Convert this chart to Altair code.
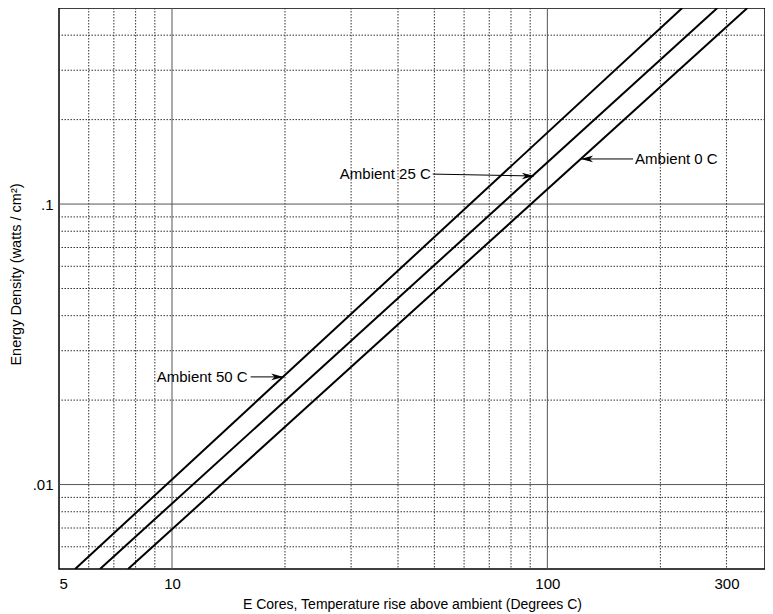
import altair as alt
import pandas as pd

# ---- data ----
series = ["Ambient 50 C", "Ambient 25 C", "Ambient 0 C"]
x_at_low = [5.52, 6.43, 7.64]      # x where y = 0.005
x_at_high = [228.7, 283.6, 341.0]  # x where y = 0.5
y_ends = [0.005, 0.5]

x_minor = [6, 7, 8, 9, 20, 30, 40, 50, 60, 70, 80, 90, 200, 300]
x_major = [10, 100]
y_minor = [0.006, 0.007, 0.008, 0.009,
           0.02, 0.03, 0.04, 0.05, 0.06, 0.07, 0.08, 0.09,
           0.2, 0.3, 0.4]
y_major = [0.01, 0.1]

x_ticks = [5, 10, 100, 300]
y_ticks = [0.01, 0.1]

ann_text = ["Ambient 50 C", "Ambient 25 C", "Ambient 0 C"]
ann_text_x = [15.9, 48.9, 171.3]
ann_text_y = [0.0242, 0.1279, 0.1448]
ann_align = ["right", "right", "left"]
arrow_x0 = [16.2, 49.5, 169.2]
arrow_y0 = [0.0242, 0.1279, 0.1448]
arrow_x1 = [19.8, 92.1, 122.9]
arrow_y1 = [0.0242, 0.1259, 0.1448]
arrow_dir = ["right", "right", "left"]

FONT = "Liberation Sans"
xs = alt.Scale(type="log", domain=[5, 380], nice=False)
ys = alt.Scale(type="log", domain=[0.005, 0.5], nice=False)

XAX = alt.Axis(
    values=x_ticks, title="E Cores, Temperature rise above ambient (Degrees C)",
    labelExpr="format(datum.value, '~g')",
    titleBaseline="middle", titleY=35,
)
YAX = alt.Axis(
    values=y_ticks, title="Energy Density (watts / cm²)",
    labelExpr="datum.value == 0.1 ? '.1' : '.01'",
    titleBaseline="middle", titleX=-43, titleY=266, titleAngle=-90,
    titleFontSize=14.5,
)

# ---- tables ----
lines_rows = []
for s, a, b in zip(series, x_at_low, x_at_high):
    lines_rows.append({"series": s, "x": a, "y": y_ends[0]})
    lines_rows.append({"series": s, "x": b, "y": y_ends[1]})
lines_df = pd.DataFrame(lines_rows)

ann_df = pd.DataFrame({
    "text": ann_text, "tx": ann_text_x, "ty": ann_text_y, "align": ann_align,
    "x0": arrow_x0, "y0": arrow_y0, "x1": arrow_x1, "y1": arrow_y1, "dir": arrow_dir,
})

# ---- layers ----
vminor = alt.Chart(pd.DataFrame({"v": x_minor})).mark_rule(
    color="#333", strokeDash=[1.5, 1.5], strokeWidth=1
).encode(x=alt.X("v:Q", scale=xs, axis=XAX))

hminor = alt.Chart(pd.DataFrame({"v": y_minor})).mark_rule(
    color="#333", strokeDash=[1.5, 1.5], strokeWidth=1
).encode(y=alt.Y("v:Q", scale=ys, axis=YAX))

vmajor = alt.Chart(pd.DataFrame({"v": x_major})).mark_rule(
    color="#555", strokeWidth=1
).encode(x=alt.X("v:Q", scale=xs, axis=XAX))

hmajor = alt.Chart(pd.DataFrame({"v": y_major})).mark_rule(
    color="#555", strokeWidth=1
).encode(y=alt.Y("v:Q", scale=ys, axis=YAX))

lines = alt.Chart(lines_df).mark_line(color="black", strokeWidth=2, clip=True).encode(
    x=alt.X("x:Q", scale=xs, axis=XAX),
    y=alt.Y("y:Q", scale=ys, axis=YAX),
    detail="series:N",
)

arrows = alt.Chart(ann_df).mark_rule(color="black", strokeWidth=1).encode(
    x=alt.X("x0:Q", scale=xs, axis=XAX), x2="x1:Q",
    y=alt.Y("y0:Q", scale=ys, axis=YAX), y2="y1:Q",
)

right_path = "M1,0 L-1,-0.55 L-0.45,0 L-1,0.55 Z"
left_path = "M-1,0 L1,-0.55 L0.45,0 L1,0.55 Z"

heads_r = alt.Chart(ann_df).transform_filter("datum.dir == 'right'").mark_point(
    shape=right_path, filled=True, color="black", size=150, opacity=1, xOffset=-6
).encode(x=alt.X("x1:Q", scale=xs, axis=XAX), y=alt.Y("y1:Q", scale=ys, axis=YAX))

heads_l = alt.Chart(ann_df).transform_filter("datum.dir == 'left'").mark_point(
    shape=left_path, filled=True, color="black", size=150, opacity=1, xOffset=6
).encode(x=alt.X("x1:Q", scale=xs, axis=XAX), y=alt.Y("y1:Q", scale=ys, axis=YAX))

text_r = alt.Chart(ann_df).transform_filter("datum.align == 'right'").mark_text(
    align="right", baseline="middle", font=FONT, fontSize=15, color="black"
).encode(x=alt.X("tx:Q", scale=xs, axis=XAX), y=alt.Y("ty:Q", scale=ys, axis=YAX), text="text:N")

text_l = alt.Chart(ann_df).transform_filter("datum.align == 'left'").mark_text(
    align="left", baseline="middle", font=FONT, fontSize=15, color="black"
).encode(x=alt.X("tx:Q", scale=xs, axis=XAX), y=alt.Y("ty:Q", scale=ys, axis=YAX), text="text:N")

chart = alt.layer(
    vminor, hminor, vmajor, hmajor, lines, arrows, heads_r, heads_l, text_r, text_l
).properties(
    width=706, height=561,
    autosize=alt.AutoSizeParams(type="none"),
    padding={"left": 51, "top": 0, "right": 0, "bottom": 45},
).configure_view(
    stroke="black", strokeWidth=1.5
).configure_axis(
    grid=False, domain=False, ticks=False, tickSize=0,
    labelFont=FONT, labelFontSize=15, labelColor="black",
    titleFont=FONT, titleFontSize=14, titleColor="black", titleFontWeight="normal",
).configure_axisX(
    labelPadding=7, labelBaseline="top"
).configure_axisY(
    labelPadding=6, labelBaseline="middle"
)

chart.save("out.html", embed_options={"renderer": "svg", "actions": False})
